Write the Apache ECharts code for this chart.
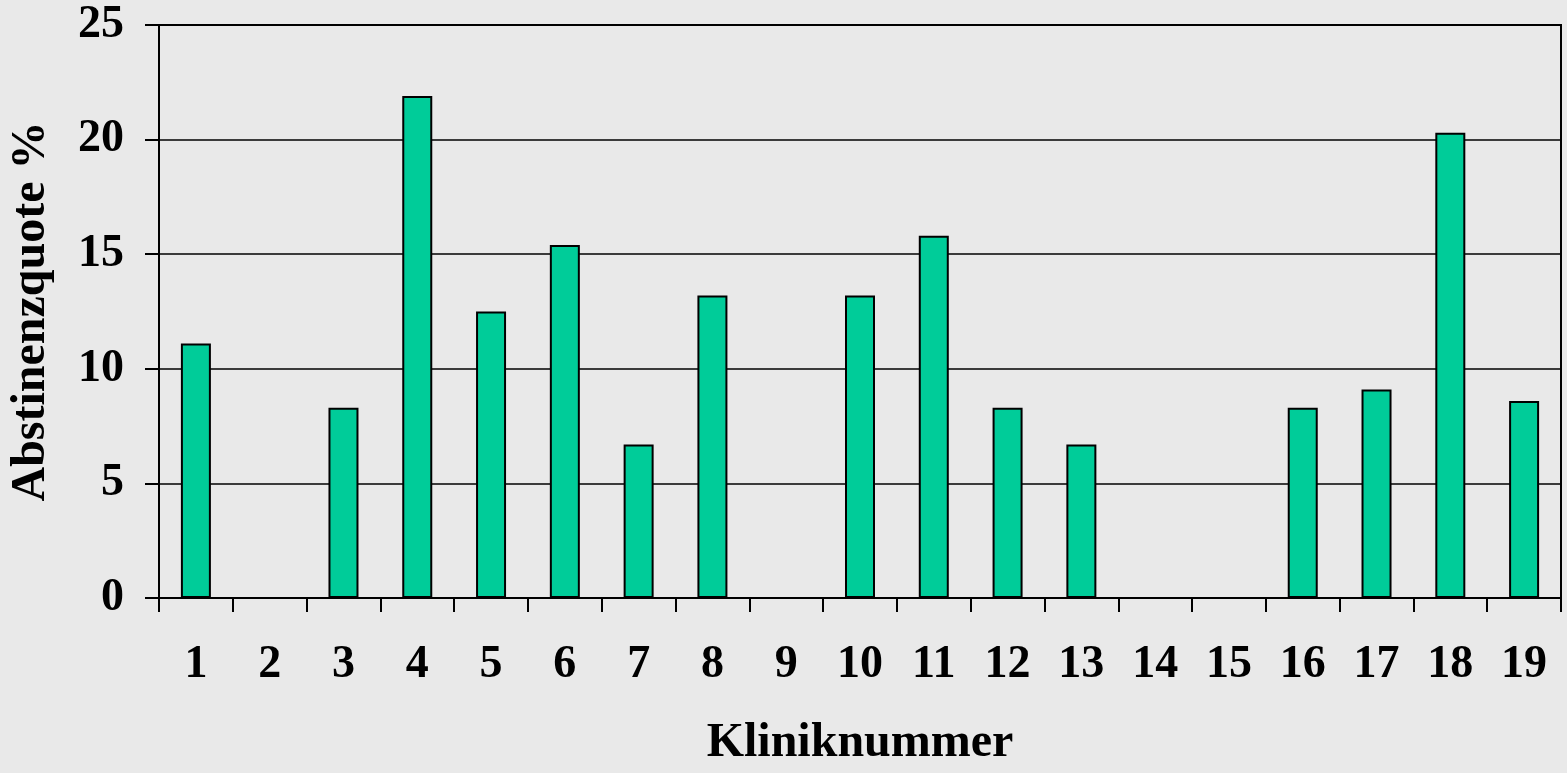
<!DOCTYPE html>
<html>
<head>
<meta charset="utf-8">
<script src="https://cdn.jsdelivr.net/npm/echarts@6/dist/echarts.min.js"></script>
<style>
  html, body { margin: 0; padding: 0; background: #e9e9e9; }
  #chart { width: 1567px; height: 773px; }
</style>
</head>
<body>
<div id="chart"></div>
<script>
// Abstinence rate per clinic
const clinics = ['1','2','3','4','5','6','7','8','9','10','11','12','13','14','15','16','17','18','19'];
const abstinenceRate = [11.1, 0, 8.3, 21.9, 12.5, 15.4, 6.7, 13.2, 0, 13.2, 15.8, 8.3, 6.7, 0, 0, 8.3, 9.1, 20.3, 8.6];
const yTicks = { min: 0, max: 25, interval: 5 };

const font = '"Liberation Serif", "Times New Roman", serif';
const chart = echarts.init(document.getElementById('chart'));

chart.setOption({
  backgroundColor: '#e9e9e9',
  animation: false,
  grid: {
    left: 159, right: 6, top: 25, bottom: 169,
    show: true, borderColor: '#000', borderWidth: 2, backgroundColor: 'transparent'
  },
  xAxis: {
    type: 'category',
    data: clinics,
    name: 'Kliniknummer',
    nameLocation: 'middle',
    nameGap: 122,
    nameTextStyle: { fontFamily: font, fontWeight: 'bold', fontSize: 48, color: '#000' },
    axisLine: { lineStyle: { color: '#000', width: 2 } },
    axisTick: { show: true, length: 14, lineStyle: { color: '#000', width: 2 } },
    axisLabel: { margin: 44, fontFamily: font, fontWeight: 'bold', fontSize: 46, color: '#000' }
  },
  yAxis: {
    type: 'value',
    min: yTicks.min, max: yTicks.max, interval: yTicks.interval,
    name: 'Abstinenzquote %',
    nameLocation: 'middle',
    nameGap: 103,
    nameTextStyle: { fontFamily: font, fontWeight: 'bold', fontSize: 48, color: '#000' },
    axisLine: { show: true, lineStyle: { color: '#000', width: 2 } },
    axisTick: { show: true, length: 14, lineStyle: { color: '#000', width: 2 } },
    axisLabel: { margin: 35, fontFamily: font, fontWeight: 'bold', fontSize: 46, color: '#000' },
    splitLine: { show: true, lineStyle: { color: '#000', width: 1.5 } }
  },
  series: [{
    type: 'bar',
    data: abstinenceRate,
    barWidth: 30,
    itemStyle: { color: '#00cc99', borderColor: '#000', borderWidth: 2 }
  }]
});
</script>
</body>
</html>
